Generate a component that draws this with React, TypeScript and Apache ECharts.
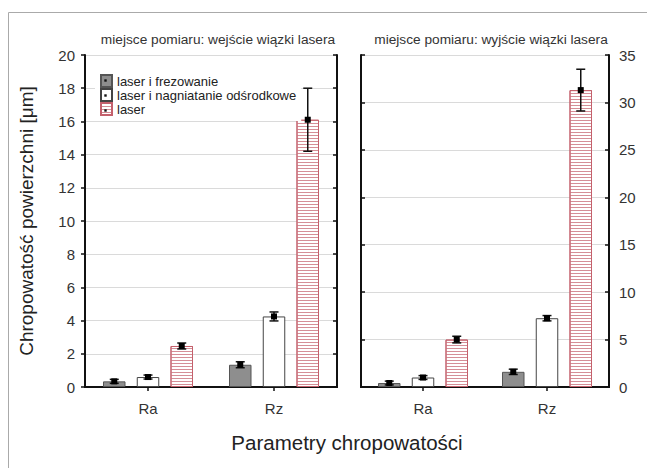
import React, { useEffect, useRef } from "react";
import * as echarts from "echarts";

const categories = ["Ra", "Rz"];
const seriesNames = ["laser i frezowanie", "laser i nagniatanie odśrodkowe", "laser"];

// miejsce pomiaru: wejście wiązki lasera
const entryFrez = [0.34, 1.34];
const entryNagn = [0.6, 4.25];
const entryLaser = [2.47, 16.1];
const entryFrezErr = [0.12, 0.18];
const entryNagnErr = [0.12, 0.27];
const entryLaserErr = [0.18, 1.9];

// miejsce pomiaru: wyjście wiązki lasera
const exitFrez = [0.42, 1.6];
const exitNagn = [1.0, 7.25];
const exitLaser = [5.0, 31.3];
const exitFrezErr = [0.2, 0.28];
const exitNagnErr = [0.2, 0.28];
const exitLaserErr = [0.35, 2.2];

const leftTicks = { min: 0, max: 20, interval: 2 };
const rightTicks = { min: 0, max: 35, interval: 5 };

const BAR_W = 22.5;
const FONT = "Liberation Sans, Arial, sans-serif";

const styles = [
  { color: "#8e8e8e", borderColor: "#555", borderWidth: 1 },
  { color: "#ffffff", borderColor: "#444", borderWidth: 1 },
  {
    color: "#ffffff",
    borderColor: "#c4606c",
    borderWidth: 1,
    decal: {
      symbol: "rect",
      symbolSize: 1,
      dashArrayX: [1, 0],
      dashArrayY: [1, 2],
      color: "#d58e97",
      rotation: 0,
    },
  },
];

function errData(vals: number[][], errs: number[][]) {
  const out: number[][] = [];
  vals.forEach((v, s) => {
    v.forEach((m, c) => {
      out.push([c, s, m - errs[s][c], m + errs[s][c], m]);
    });
  });
  return out;
}

function renderErr(params: any, api: any) {
  const cat = api.value(0);
  const s = api.value(1);
  const lo = api.value(2);
  const hi = api.value(3);
  const m = api.value(4);
  const c = api.coord([cat, m]);
  const x = c[0] + (s - 1) * BAR_W * 1.5;
  const yl = api.coord([cat, lo])[1];
  const yh = api.coord([cat, hi])[1];
  const ym = c[1];
  const st = { stroke: "#111", lineWidth: 1.5 };
  return {
    type: "group",
    children: [
      { type: "line", shape: { x1: x, y1: yl, x2: x, y2: yh }, style: st },
      { type: "line", shape: { x1: x - 4.5, y1: yh, x2: x + 4.5, y2: yh }, style: st },
      { type: "line", shape: { x1: x - 4.5, y1: yl, x2: x + 4.5, y2: yl }, style: st },
      { type: "rect", shape: { x: x - 3, y: ym - 3, width: 6, height: 6 }, style: { fill: "#000" } },
    ],
  };
}

export default function App() {
  const ref = useRef<HTMLDivElement>(null);
  useEffect(() => {
    if (!ref.current) return;
    const chart = echarts.init(ref.current, null, { renderer: "svg" });
    const axisLine = { show: true, lineStyle: { color: "#111", width: 2 } };
    const xBase = (grid: number, pos: string, labels: boolean) => ({
      type: "category",
      gridIndex: grid,
      position: pos,
      data: categories,
      axisLine,
      axisTick: { show: true, inside: true, alignWithLabel: true, length: 4, lineStyle: { color: "#111", width: 1.5 } },
      axisLabel: { show: labels, fontSize: 15, color: "#333", margin: 14, fontFamily: FONT },
      splitLine: { show: false },
    });
    const yBase = (grid: number, pos: string, t: any, labels: boolean, split: boolean, inside: boolean) => ({
      type: "value",
      gridIndex: grid,
      position: pos,
      min: t.min,
      max: t.max,
      interval: t.interval,
      axisLine,
      axisTick: { show: true, inside, length: 4, lineStyle: { color: "#111", width: 1.5 } },
      axisLabel: { show: labels, fontSize: 15, color: "#333", margin: 10, fontFamily: FONT },
      splitLine: { show: split, lineStyle: { color: "#dadada", width: 1 } },
    });
    const bars = (vals: number[][], xi: number, yi: number) =>
      vals.map((v, i) => ({
        type: "bar",
        name: seriesNames[i],
        xAxisIndex: xi,
        yAxisIndex: yi,
        data: v,
        barWidth: BAR_W,
        barGap: "50%",
        itemStyle: styles[i],
        z: 2,
      }));
    const dot = (y: number) => ({
      type: "rect",
      silent: true,
      z: 100,
      shape: { x: 104.3, y: y - 1.2, width: 2.4, height: 2.4 },
      style: { fill: "#111" },
    });
    chart.setOption({
      animation: false,
      backgroundColor: "#fff",
      grid: [
        { left: 85, top: 55, width: 252, height: 332 },
        { left: 361, top: 55, width: 248, height: 332 },
      ],
      title: [
        {
          text: "miejsce pomiaru: wejście wiązki lasera",
          left: 213,
          top: 27,
          textAlign: "center",
          textStyle: { fontSize: 13.7, fontWeight: "normal", color: "#333", fontFamily: FONT },
        },
        {
          text: "miejsce pomiaru: wyjście wiązki lasera",
          left: 486,
          top: 27,
          textAlign: "center",
          textStyle: { fontSize: 13.7, fontWeight: "normal", color: "#333", fontFamily: FONT },
        },
      ],
      legend: {
        orient: "vertical",
        left: 95,
        top: 69,
        itemWidth: 11,
        itemHeight: 12,
        itemGap: 0,
        icon: "rect",
        backgroundColor: "#fff",
        data: seriesNames,
        textStyle: { fontSize: 13, color: "#222", fontFamily: FONT },
        selectedMode: false,
      },
      xAxis: [
        xBase(0, "bottom", true),
        xBase(0, "top", false),
        xBase(1, "bottom", true),
        xBase(1, "top", false),
      ],
      yAxis: [
        {
          ...yBase(0, "left", leftTicks, true, true, false),
          name: "Chropowatość powierzchni [μm]",
          nameLocation: "middle",
          nameRotate: 90,
          nameGap: 49,
          nameTextStyle: { fontSize: 19, color: "#222", fontFamily: FONT },
        },
        yBase(0, "right", leftTicks, false, false, true),
        yBase(1, "left", rightTicks, false, false, true),
        yBase(1, "right", rightTicks, true, true, true),
      ],
      graphic: [
        {
          type: "rect",
          silent: true,
          shape: { x: 8.5, y: 12.5, width: 700, height: 500 },
          style: { fill: "none", stroke: "#aaa", lineWidth: 1 },
        },
        {
          type: "text",
          x: 347,
          y: 442,
          style: {
            text: "Parametry chropowatości",
            fontSize: 20.5,
            fill: "#222",
            fontFamily: FONT,
            textAlign: "center",
            textVerticalAlign: "middle",
          },
        },
        dot(80.5),
        dot(95.5),
        dot(110.5),
      ],
      series: [
        ...bars([entryFrez, entryNagn, entryLaser], 0, 0),
        ...bars([exitFrez, exitNagn, exitLaser], 2, 3),
        {
          type: "custom",
          xAxisIndex: 0,
          yAxisIndex: 0,
          data: errData([entryFrez, entryNagn, entryLaser], [entryFrezErr, entryNagnErr, entryLaserErr]),
          encode: { x: 0, y: [2, 3, 4] },
          renderItem: renderErr,
          z: 5,
        },
        {
          type: "custom",
          xAxisIndex: 2,
          yAxisIndex: 3,
          data: errData([exitFrez, exitNagn, exitLaser], [exitFrezErr, exitNagnErr, exitLaserErr]),
          encode: { x: 0, y: [2, 3, 4] },
          renderItem: renderErr,
          z: 5,
        },
      ],
    });
    return () => chart.dispose();
  }, []);
  return (
    <div
      ref={ref}
      style={{ position: "absolute", left: 0, top: 0, width: 647, height: 468 }}
    />
  );
}
